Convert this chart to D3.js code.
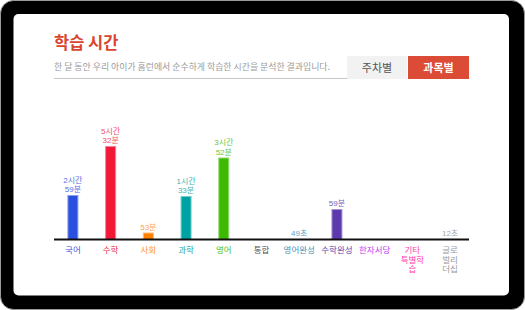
<!DOCTYPE html>
<html><head><meta charset="utf-8">
<script src="https://cdn.jsdelivr.net/npm/d3@7/dist/d3.min.js"></script>
<style>
html,body{margin:0;padding:0;background:#fff;}
svg{display:block;font-family:"Noto Sans CJK KR","Noto Sans",sans-serif;}
.lbl{font-family:"Liberation Sans","Noto Sans CJK KR",sans-serif;}
</style></head>
<body>
<script>
// ---- data ----
const categories = ["국어","수학","사회","과학","영어","통합","영어완성","수학완성","한자서당","기타 특별학습","글로벌리더십"];
const categoryLines = [["국어"],["수학"],["사회"],["과학"],["영어"],["통합"],["영어완성"],["수학완성"],["한자서당"],["기타","특별학","습"],["글로","벌리","더십"]];
// relative bar heights as drawn (study index)
const values = [44, 93, 6.5, 43, 81.5, 0, 0, 30, 0, 0, 0];
const timeLabels = [["2시간","59분"],["5시간","32분"],["53분"],["1시간","33분"],["3시간","52분"],[],["49초"],["59분"],[],[],["12초"]];
const barColors = ["#2b50e0","#f21838","#ff8000","#00a3a3","#3dba00","#555555","#4a8db0","#5c3aad","#c235f0","#ff3fae","#999999"];
const labelColors = ["#3657e0","#f0304c","#ff9230","#1aa8a8","#4cc21a","#555555","#4d8fb0","#5a45ad","#c23cf0","#ff40b0","#9a9a9a"];
const yTicks = [0, 100];

const W = 525, H = 310;
const svg = d3.select("body").append("svg").attr("width", W).attr("height", H);

// device frame
svg.append("rect").attr("x",0.5).attr("y",0.5).attr("width",W-1).attr("height",H-1)
  .attr("rx",13).attr("fill","#000").attr("stroke","#9a9a9a").attr("stroke-width",1);
svg.append("rect").attr("x",13.5).attr("y",14).attr("width",495.5).attr("height",281.5)
  .attr("rx",5).attr("fill","#fff");

// title and subtitle
svg.append("text").attr("x",54).attr("y",49).text("학습 시간")
  .attr("font-size",16.5).attr("font-weight","bold").attr("fill","#d9452f");
svg.append("text").attr("x",54).attr("y",69.5)
  .text("한 달 동안 우리 아이가 홈런에서 순수하게 학습한 시간을 분석한 결과입니다.")
  .attr("font-size",8.6).attr("fill","#9a9a9a").attr("textLength",276).attr("lengthAdjust","spacingAndGlyphs");
svg.append("line").attr("x1",54).attr("x2",347).attr("y1",78.5).attr("y2",78.5)
  .attr("stroke","#c8c8c8").attr("stroke-width",1);

// buttons
svg.append("rect").attr("x",347).attr("y",56).attr("width",60).attr("height",23).attr("fill","#f2f2f2");
svg.append("text").attr("x",377).attr("y",72).attr("text-anchor","middle").text("주차별")
  .attr("font-size",11).attr("fill","#555");
svg.append("rect").attr("x",408).attr("y",56).attr("width",61).attr("height",23).attr("fill","#dc4b35");
svg.append("text").attr("x",438.5).attr("y",72).attr("text-anchor","middle").text("과목별")
  .attr("font-size",11).attr("font-weight","bold").attr("fill","#fff");

// scales
const x = d3.scaleBand().domain(categories).range([54,469]).paddingInner(0.708).paddingOuter(0.355);
const y = d3.scaleLinear().domain([yTicks[0], yTicks[1]]).range([239,139]);

// bars
const g = svg.append("g");
categories.forEach((c,i)=>{
  const v = values[i];
  if (v > 0) {
    g.append("rect").attr("x",x(c)+0.5).attr("y",y(v)+0.5)
      .attr("width",x.bandwidth()-1).attr("height",y(0)-y(v))
      .attr("fill",barColors[i])
      .attr("stroke",d3.interpolateRgb(barColors[i],"#fff")(0.45)).attr("stroke-width",1);
  }
  const lines = timeLabels[i];
  if (!lines.length) return;
  const cx = x(c) + x.bandwidth()/2;
  const top = y(v) - 3;
  const t = g.append("text").attr("class","lbl").attr("text-anchor","middle").attr("font-size",8)
    .attr("fill",labelColors[i]).attr("opacity",0.85);
  lines.forEach((s,j)=>{
    t.append("tspan").attr("x",cx).attr("y", top - (lines.length-1-j)*9.2).text(s);
  });
});

// axis baseline
const axis = d3.axisBottom(x).tickSize(0).tickFormat("");
const ag = svg.append("g").attr("transform","translate(0,239.5)").call(axis);
ag.select(".domain").attr("stroke","#111").attr("stroke-width",2).attr("d","M54,0H469");

// category labels
categories.forEach((c,i)=>{
  const cx = x(c) + x.bandwidth()/2;
  const t = svg.append("text").attr("class","lbl").attr("text-anchor","middle")
    .attr("font-size",8.5).attr("fill",labelColors[i]);
  categoryLines[i].forEach((s,j)=>{
    t.append("tspan").attr("x",cx).attr("y",253 + j*9.6).text(s);
  });
});
</script>
</body></html>
